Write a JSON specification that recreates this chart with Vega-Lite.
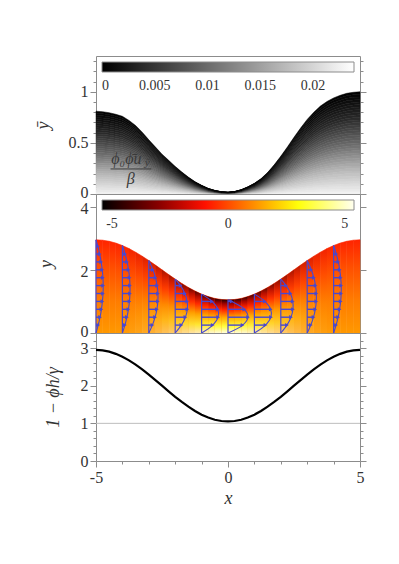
{
"$schema":"https://vega.github.io/schema/vega-lite/v6.json",
"autosize":{"type":"pad"},
"padding":{"left":33,"top":52,"right":5,"bottom":5},
"background":"white",
"spacing":0,
"bounds":"flush",
"resolve":{"scale":{"color":"independent"},"legend":{"color":"independent"}},
"config":{
 "view":{"stroke":"#8c8c8c","strokeWidth":1},
 "axis":{"domain":false,"grid":false,"tickColor":"#8c8c8c","tickWidth":1,"labelFont":"Liberation Serif","labelFontSize":16,"labelColor":"#333","labelPadding":2,"labelFlush":false,"labelOverlap":false,"titleFont":"Liberation Serif","titleFontSize":18,"titleFontStyle":"italic","titleFontWeight":"normal","titleColor":"#333"}
},
"datasets":{
"pts":[
{"x":-5,"a":0.81,"b":2.95},{"x":-4.75,"a":0.805,"b":2.938},{"x":-4.5,"a":0.795,"b":2.904},{"x":-4.25,"a":0.78,"b":2.846},{"x":-4,"a":0.76,"b":2.769},
{"x":-3.75,"a":0.72,"b":2.672},{"x":-3.5,"a":0.67,"b":2.558},{"x":-3.25,"a":0.605,"b":2.431},{"x":-3,"a":0.53,"b":2.294},{"x":-2.75,"a":0.46,"b":2.149},
{"x":-2.5,"a":0.39,"b":2.0},{"x":-2.25,"a":0.33,"b":1.851},{"x":-2,"a":0.27,"b":1.706},{"x":-1.75,"a":0.215,"b":1.569},{"x":-1.5,"a":0.165,"b":1.442},
{"x":-1.25,"a":0.12,"b":1.328},{"x":-1,"a":0.085,"b":1.231},{"x":-0.75,"a":0.055,"b":1.154},{"x":-0.5,"a":0.035,"b":1.096},{"x":-0.25,"a":0.022,"b":1.062},
{"x":0,"a":0.017,"b":1.05},{"x":0.25,"a":0.024,"b":1.062},{"x":0.5,"a":0.042,"b":1.096},{"x":0.75,"a":0.07,"b":1.154},{"x":1,"a":0.105,"b":1.231},
{"x":1.25,"a":0.15,"b":1.328},{"x":1.5,"a":0.21,"b":1.442},{"x":1.75,"a":0.285,"b":1.569},{"x":2,"a":0.37,"b":1.706},{"x":2.25,"a":0.46,"b":1.851},
{"x":2.5,"a":0.555,"b":2.0},{"x":2.75,"a":0.645,"b":2.149},{"x":3,"a":0.73,"b":2.294},{"x":3.25,"a":0.8,"b":2.431},{"x":3.5,"a":0.86,"b":2.558},
{"x":3.75,"a":0.905,"b":2.672},{"x":4,"a":0.94,"b":2.769},{"x":4.25,"a":0.965,"b":2.846},{"x":4.5,"a":0.985,"b":2.904},{"x":4.75,"a":0.995,"b":2.938},
{"x":5,"a":1.0,"b":2.95}
],
"strips":[
{"s":0,"x":-5,"b":2.95,"w":0},{"s":0,"x":-4.75,"b":2.938,"w":0},
{"s":1,"x":-4.75,"b":2.938,"w":0},{"s":1,"x":-4.5,"b":2.904,"w":0},
{"s":2,"x":-4.5,"b":2.904,"w":0},{"s":2,"x":-4.25,"b":2.846,"w":0},
{"s":3,"x":-4.25,"b":2.846,"w":0.01},{"s":3,"x":-4,"b":2.769,"w":0.01},
{"s":4,"x":-4,"b":2.769,"w":0.03},{"s":4,"x":-3.75,"b":2.672,"w":0.03},
{"s":5,"x":-3.75,"b":2.672,"w":0.06},{"s":5,"x":-3.5,"b":2.558,"w":0.06},
{"s":6,"x":-3.5,"b":2.558,"w":0.1},{"s":6,"x":-3.25,"b":2.431,"w":0.1},
{"s":7,"x":-3.25,"b":2.431,"w":0.16},{"s":7,"x":-3,"b":2.294,"w":0.16},
{"s":8,"x":-3,"b":2.294,"w":0.23},{"s":8,"x":-2.75,"b":2.149,"w":0.23},
{"s":9,"x":-2.75,"b":2.149,"w":0.31},{"s":9,"x":-2.5,"b":2.0,"w":0.31},
{"s":10,"x":-2.5,"b":2.0,"w":0.39},{"s":10,"x":-2.25,"b":1.851,"w":0.39},
{"s":11,"x":-2.25,"b":1.851,"w":0.47},{"s":11,"x":-2,"b":1.706,"w":0.47},
{"s":12,"x":-2,"b":1.706,"w":0.56},{"s":12,"x":-1.75,"b":1.569,"w":0.56},
{"s":13,"x":-1.75,"b":1.569,"w":0.64},{"s":13,"x":-1.5,"b":1.442,"w":0.64},
{"s":14,"x":-1.5,"b":1.442,"w":0.72},{"s":14,"x":-1.25,"b":1.328,"w":0.72},
{"s":15,"x":-1.25,"b":1.328,"w":0.79},{"s":15,"x":-1,"b":1.231,"w":0.79},
{"s":16,"x":-1,"b":1.231,"w":0.86},{"s":16,"x":-0.75,"b":1.154,"w":0.86},
{"s":17,"x":-0.75,"b":1.154,"w":0.92},{"s":17,"x":-0.5,"b":1.096,"w":0.92},
{"s":18,"x":-0.5,"b":1.096,"w":0.96},{"s":18,"x":-0.25,"b":1.062,"w":0.96},
{"s":19,"x":-0.25,"b":1.062,"w":0.99},{"s":19,"x":0,"b":1.05,"w":0.99},
{"s":20,"x":0,"b":1.05,"w":0.99},{"s":20,"x":0.25,"b":1.062,"w":0.99},
{"s":21,"x":0.25,"b":1.062,"w":0.96},{"s":21,"x":0.5,"b":1.096,"w":0.96},
{"s":22,"x":0.5,"b":1.096,"w":0.92},{"s":22,"x":0.75,"b":1.154,"w":0.92},
{"s":23,"x":0.75,"b":1.154,"w":0.86},{"s":23,"x":1,"b":1.231,"w":0.86},
{"s":24,"x":1,"b":1.231,"w":0.79},{"s":24,"x":1.25,"b":1.328,"w":0.79},
{"s":25,"x":1.25,"b":1.328,"w":0.72},{"s":25,"x":1.5,"b":1.442,"w":0.72},
{"s":26,"x":1.5,"b":1.442,"w":0.64},{"s":26,"x":1.75,"b":1.569,"w":0.64},
{"s":27,"x":1.75,"b":1.569,"w":0.56},{"s":27,"x":2,"b":1.706,"w":0.56},
{"s":28,"x":2,"b":1.706,"w":0.47},{"s":28,"x":2.25,"b":1.851,"w":0.47},
{"s":29,"x":2.25,"b":1.851,"w":0.39},{"s":29,"x":2.5,"b":2.0,"w":0.39},
{"s":30,"x":2.5,"b":2.0,"w":0.31},{"s":30,"x":2.75,"b":2.149,"w":0.31},
{"s":31,"x":2.75,"b":2.149,"w":0.23},{"s":31,"x":3,"b":2.294,"w":0.23},
{"s":32,"x":3,"b":2.294,"w":0.16},{"s":32,"x":3.25,"b":2.431,"w":0.16},
{"s":33,"x":3.25,"b":2.431,"w":0.1},{"s":33,"x":3.5,"b":2.558,"w":0.1},
{"s":34,"x":3.5,"b":2.558,"w":0.06},{"s":34,"x":3.75,"b":2.672,"w":0.06},
{"s":35,"x":3.75,"b":2.672,"w":0.03},{"s":35,"x":4,"b":2.769,"w":0.03},
{"s":36,"x":4,"b":2.769,"w":0.01},{"s":36,"x":4.25,"b":2.846,"w":0.01},
{"s":37,"x":4.25,"b":2.846,"w":0},{"s":37,"x":4.5,"b":2.904,"w":0},
{"s":38,"x":4.5,"b":2.904,"w":0},{"s":38,"x":4.75,"b":2.938,"w":0},
{"s":39,"x":4.75,"b":2.938,"w":0},{"s":39,"x":5,"b":2.95,"w":0}
],
"arrows":[
{"p":-5,"y":0,"t":-5,"e":1},{"p":-5,"y":2.95,"t":-5,"e":1},
{"p":-5,"y":0.25,"t":-4.916},{"p":-5,"y":0.5,"t":-4.847},{"p":-5,"y":0.75,"t":-4.794},{"p":-5,"y":1,"t":-4.757},{"p":-5,"y":1.25,"t":-4.735},{"p":-5,"y":1.5,"t":-4.729},{"p":-5,"y":1.75,"t":-4.738},{"p":-5,"y":2,"t":-4.763},{"p":-5,"y":2.25,"t":-4.804},{"p":-5,"y":2.5,"t":-4.86},{"p":-5,"y":2.75,"t":-4.931},
{"p":-4,"y":0,"t":-4,"e":1},{"p":-4,"y":2.769,"t":-4,"e":1},
{"p":-4,"y":0.25,"t":-3.905},{"p":-4,"y":0.5,"t":-3.829},{"p":-4,"y":0.75,"t":-3.772},{"p":-4,"y":1,"t":-3.733},{"p":-4,"y":1.25,"t":-3.714},{"p":-4,"y":1.5,"t":-3.713},{"p":-4,"y":1.75,"t":-3.731},{"p":-4,"y":2,"t":-3.768},{"p":-4,"y":2.25,"t":-3.824},{"p":-4,"y":2.5,"t":-3.898},
{"p":-3,"y":0,"t":-3,"e":1},{"p":-3,"y":2.294,"t":-3,"e":1},
{"p":-3,"y":0.25,"t":-2.864},{"p":-3,"y":0.5,"t":-2.762},{"p":-3,"y":0.75,"t":-2.693},{"p":-3,"y":1,"t":-2.657},{"p":-3,"y":1.25,"t":-2.654},{"p":-3,"y":1.5,"t":-2.685},{"p":-3,"y":1.75,"t":-2.748},{"p":-3,"y":2,"t":-2.845},
{"p":-2,"y":0,"t":-2,"e":1},{"p":-2,"y":1.706,"t":-2,"e":1},
{"p":-2,"y":0.25,"t":-1.767},{"p":-2,"y":0.5,"t":-1.613},{"p":-2,"y":0.75,"t":-1.539},{"p":-2,"y":1,"t":-1.546},{"p":-2,"y":1.25,"t":-1.632},{"p":-2,"y":1.5,"t":-1.798},
{"p":-1,"y":0,"t":-1,"e":1},{"p":-1,"y":1.231,"t":-1,"e":1},
{"p":-1,"y":0.25,"t":-0.579},{"p":-1,"y":0.5,"t":-0.373},{"p":-1,"y":0.75,"t":-0.381},{"p":-1,"y":1,"t":-0.605},
{"p":0,"y":0,"t":0,"e":1},{"p":0,"y":1.05,"t":0,"e":1},
{"p":0,"y":0.25,"t":0.553},{"p":0,"y":0.5,"t":0.76},{"p":0,"y":0.75,"t":0.622},{"p":0,"y":1,"t":0.138},
{"p":1,"y":0,"t":1,"e":1},{"p":1,"y":1.231,"t":1,"e":1},
{"p":1,"y":0.25,"t":1.421},{"p":1,"y":0.5,"t":1.627},{"p":1,"y":0.75,"t":1.619},{"p":1,"y":1,"t":1.395},
{"p":2,"y":0,"t":2,"e":1},{"p":2,"y":1.706,"t":2,"e":1},
{"p":2,"y":0.25,"t":2.233},{"p":2,"y":0.5,"t":2.387},{"p":2,"y":0.75,"t":2.461},{"p":2,"y":1,"t":2.454},{"p":2,"y":1.25,"t":2.368},{"p":2,"y":1.5,"t":2.202},
{"p":3,"y":0,"t":3,"e":1},{"p":3,"y":2.294,"t":3,"e":1},
{"p":3,"y":0.25,"t":3.136},{"p":3,"y":0.5,"t":3.238},{"p":3,"y":0.75,"t":3.307},{"p":3,"y":1,"t":3.343},{"p":3,"y":1.25,"t":3.346},{"p":3,"y":1.5,"t":3.315},{"p":3,"y":1.75,"t":3.252},{"p":3,"y":2,"t":3.155},
{"p":4,"y":0,"t":4,"e":1},{"p":4,"y":2.769,"t":4,"e":1},
{"p":4,"y":0.25,"t":4.095},{"p":4,"y":0.5,"t":4.171},{"p":4,"y":0.75,"t":4.228},{"p":4,"y":1,"t":4.267},{"p":4,"y":1.25,"t":4.286},{"p":4,"y":1.5,"t":4.287},{"p":4,"y":1.75,"t":4.269},{"p":4,"y":2,"t":4.232},{"p":4,"y":2.25,"t":4.176},{"p":4,"y":2.5,"t":4.102}
]
},
"vconcat":[
{
 "width":264,"height":138,
 "layer":[
  {"data":{"name":"pts"},
   "transform":[
     {"fold":["a","a","a","a","a","a","a","a","a","a","a","a","a","a","a","a","a","a","a","a","a","a","a","a","a","a","a","a","a","a","a","a","a","a","a","a","a","a","a","a"],"as":["k","v"]},
     {"window":[{"op":"row_number","as":"j"}],"groupby":["x"]}],
   "mark":{"type":"area","interpolate":"linear","strokeWidth":0.5},
   "encoding":{
    "x":{"field":"x","type":"quantitative","scale":{"domain":[-5,5],"nice":false,"zero":false},"axis":null},
    "y":{"field":"v","type":"quantitative","stack":"zero","scale":{"domain":[0,54],"nice":false,"zero":false},"axis":null},
    "order":{"field":"j","type":"quantitative","sort":"ascending"},
    "detail":{"field":"j","type":"quantitative"},
    "fill":{"field":"j","type":"quantitative","scale":{"domain":[0.5,10.5,20.5,30.5,40.5],"range":["#f4f4f4","#b4b4b4","#686868","#282828","#000000"],"interpolate":"rgb"},"legend":null},
    "stroke":{"field":"j","type":"quantitative","scale":{"domain":[0.5,10.5,20.5,30.5,40.5],"range":["#f4f4f4","#b4b4b4","#686868","#282828","#000000"],"interpolate":"rgb"},"legend":null}}},
  {"data":{"name":"pts"},
   "mark":{"type":"point","size":0,"strokeWidth":0,"filled":true,"opacity":1},
   "encoding":{
    "x":{"field":"x","type":"quantitative","axis":null},
    "y":{"field":"a","type":"quantitative","scale":{"domain":[0,1.35],"nice":false,"zero":false},
      "axis":{"orient":"left","title":"y\u0304","titlePadding":16,"values":[0,0.1,0.2,0.3,0.4,0.5,0.6,0.7,0.8,0.9,1,1.1,1.2,1.3],
        "labelExpr":"abs(datum.value*2 - round(datum.value*2)) < 0.001 ? format(datum.value, '~g') : ''",
        "labelOffset":{"condition":{"test":"datum.value == 0","value":-2},"value":0},
        "tickSize":{"condition":{"test":"abs(datum.value*2 - round(datum.value*2)) < 0.001","value":6},"value":3}}},
    "color":{"field":"a","type":"quantitative","scale":{"domain":[0,0.0239],"range":["#000000","#ffffff"],"interpolate":"rgb"},
      "legend":{"orient":"none","legendX":6,"legendY":6,"direction":"horizontal","gradientLength":252,"gradientThickness":10,"title":null,"values":[0,0.005,0.01,0.015,0.02],"format":"~g","labelFont":"Liberation Serif","labelFontSize":14,"labelColor":"#333","labelOffset":7,"gradientStrokeColor":"#8c8c8c","gradientStrokeWidth":1,"padding":0,"labelOverlap":false}}}},
  {"data":{"values":[{}]},
   "mark":{"type":"rule","color":"#3a3a3a","strokeWidth":1},
   "encoding":{"x":{"datum":-4.45,"axis":null},"x2":{"datum":-2.9},
    "y":{"datum":0.245,"scale":{"domain":[0,1.35],"nice":false,"zero":false},
      "axis":{"orient":"right","title":null,"labels":false,"values":[0,0.1,0.2,0.3,0.4,0.5,0.6,0.7,0.8,0.9,1,1.1,1.2,1.3],
        "tickSize":{"condition":{"test":"abs(datum.value*2 - round(datum.value*2)) < 0.001","value":6},"value":3}}}}},
  {"data":{"values":[{}]},
   "mark":{"type":"text","text":"\u03d5\u2080\u03d5\u0304u","font":"Liberation Serif","fontStyle":"italic","fontSize":16,"color":"#3a3a3a","baseline":"middle","align":"center"},
   "encoding":{"x":{"datum":-3.85,"axis":null},"y":{"datum":0.345,"scale":{"domain":[0,1.35],"nice":false,"zero":false},"axis":null}}},
  {"data":{"values":[{}]},
   "mark":{"type":"text","text":"y\u0304","font":"Liberation Serif","fontStyle":"italic","fontSize":11,"color":"#3a3a3a","baseline":"middle","align":"center"},
   "encoding":{"x":{"datum":-3.06,"axis":null},"y":{"datum":0.3,"scale":{"domain":[0,1.35],"nice":false,"zero":false},"axis":null}}},
  {"data":{"values":[{}]},
   "mark":{"type":"text","text":"\u03b2","font":"Liberation Serif","fontStyle":"italic","fontSize":16,"color":"#3a3a3a","baseline":"middle","align":"center"},
   "encoding":{"x":{"datum":-3.68,"axis":null},"y":{"datum":0.15,"scale":{"domain":[0,1.35],"nice":false,"zero":false},"axis":null}}}
 ],
 "resolve":{"scale":{"y":"independent"},"axis":{"y":"independent"}}
},
{
 "width":264,"height":139,
 "layer":[
  {"data":{"name":"strips"},
   "mark":{"type":"area","interpolate":"linear","strokeWidth":0.6,
     "fill":{"gradient":"linear","x1":0,"y1":1,"x2":0,"y2":0,"stops":[{"offset":0,"color":"#ff9800"},{"offset":0.35,"color":"#ff7c00"},{"offset":0.7,"color":"#ff5000"},{"offset":1,"color":"#ff2400"}]},
     "stroke":{"gradient":"linear","x1":0,"y1":1,"x2":0,"y2":0,"stops":[{"offset":0,"color":"#ff9800"},{"offset":0.35,"color":"#ff7c00"},{"offset":0.7,"color":"#ff5000"},{"offset":1,"color":"#ff2400"}]}},
   "encoding":{
    "x":{"field":"x","type":"quantitative","scale":{"domain":[-5,5],"nice":false,"zero":false},"axis":null},
    "y":{"field":"b","type":"quantitative","stack":null,"scale":{"domain":[0,4.4],"nice":false,"zero":false},
      "axis":{"orient":"left","title":"y","titlePadding":25,"values":[0,2,4],"format":"d","tickSize":6,
        "labelOffset":{"condition":{"test":"datum.value == 0","value":-2},"value":2}}},
    "detail":{"field":"s","type":"nominal"}}},
  {"data":{"name":"strips"},
   "transform":[{"filter":"datum.w > 0"}],
   "mark":{"type":"area","interpolate":"linear",
     "fill":{"gradient":"linear","x1":0,"y1":1,"x2":0,"y2":0,"stops":[{"offset":0,"color":"#ffffe0"},{"offset":0.2,"color":"#ffff40"},{"offset":0.45,"color":"#ffb000"},{"offset":0.7,"color":"#ff2000"},{"offset":0.87,"color":"#a00000"},{"offset":1,"color":"#200000"}]}},
   "encoding":{
    "x":{"field":"x","type":"quantitative","axis":null},
    "y":{"field":"b","type":"quantitative","stack":null,"axis":null},
    "opacity":{"field":"w","type":"quantitative","scale":null,"legend":null},
    "detail":{"field":"s","type":"nominal"}}},
  {"data":{"name":"arrows"},
   "transform":[{"filter":"datum.e == 1 && datum.y > 0"}],
   "mark":{"type":"rule","color":"#4848d0","strokeWidth":1.2},
   "encoding":{"x":{"field":"p","type":"quantitative","axis":null},"y":{"field":"y","type":"quantitative","axis":null},"y2":{"datum":0}}},
  {"data":{"name":"arrows"},
   "mark":{"type":"line","color":"#4848d0","strokeWidth":1.1,"interpolate":"catmull-rom"},
   "encoding":{"x":{"field":"t","type":"quantitative","axis":null},"y":{"field":"y","type":"quantitative","axis":null},"detail":{"field":"p","type":"nominal"},"order":{"field":"y","type":"quantitative"}}},
  {"data":{"name":"arrows"},
   "transform":[{"filter":"datum.e != 1"}],
   "mark":{"type":"rule","color":"#4848d0","strokeWidth":1.4},
   "encoding":{"x":{"field":"p","type":"quantitative","axis":null},"x2":{"field":"t"},"y":{"field":"y","type":"quantitative","axis":null}}},
  {"data":{"name":"arrows"},
   "transform":[{"filter":"datum.e != 1"}],
   "mark":{"type":"point","shape":"triangle-right","filled":true,"size":18,"color":"#4848d0","opacity":1},
   "encoding":{"x":{"field":"t","type":"quantitative","axis":null},"y":{"field":"y","type":"quantitative","axis":null}}},
  {"data":{"name":"arrows"},
   "mark":{"type":"point","size":0,"strokeWidth":0,"filled":true,"opacity":1},
   "encoding":{
    "x":{"field":"t","type":"quantitative","axis":null},
    "y":{"field":"y","type":"quantitative","axis":{"orient":"right","title":null,"labels":false,"values":[0,2,4],"tickSize":6}},
    "color":{"field":"t","type":"quantitative","scale":{"domain":[-5.43,-2.85,-1.0,1.4,2.9,5.4],"range":["#000000","#900000","#ff1000","#ffa000","#ffff00","#fffff0"],"interpolate":"rgb"},
      "legend":{"orient":"none","legendX":6,"legendY":6,"direction":"horizontal","gradientLength":252,"gradientThickness":10,"title":null,"values":[-5,0,5],"labelExpr":"datum.value < 0 ? '-' + format(-datum.value, '~g') : format(datum.value, '~g')","labelFont":"Liberation Serif","labelFontSize":14,"labelColor":"#333","labelOffset":7,"gradientStrokeColor":"#8c8c8c","gradientStrokeWidth":1,"padding":0,"labelOverlap":false}}}}
 ],
 "resolve":{"axis":{"y":"independent"}}
},
{
 "width":264,"height":128,
 "layer":[
  {"data":{"values":[{}]},
   "mark":{"type":"rule","color":"#bdbdbd","strokeWidth":1},
   "encoding":{"y":{"datum":1,"axis":null}}},
  {"data":{"name":"pts"},
   "mark":{"type":"line","color":"#000000","strokeWidth":2.2},
   "encoding":{
    "x":{"field":"x","type":"quantitative","scale":{"domain":[-5,5],"nice":false,"zero":false},
      "axis":{"title":"x","titlePadding":4,"values":[-5,-4,-3,-2,-1,0,1,2,3,4,5],"labelExpr":"datum.value == -5 ? '-5' : datum.value == 0 ? '0' : datum.value == 5 ? '5' : ''","tickSize":{"condition":{"test":"abs(datum.value) == 5 || datum.value == 0","value":6},"value":3}}},
    "y":{"field":"b","type":"quantitative","scale":{"domain":[0,3.4],"nice":false,"zero":false},
      "axis":{"orient":"left","title":"1 \u2212 \u03d5h/\u03b3","titlePadding":18,"values":[0,0.2,0.4,0.6,0.8,1,1.2,1.4,1.6,1.8,2,2.2,2.4,2.6,2.8,3,3.2,3.4],
        "labelExpr":"abs(datum.value - round(datum.value)) < 0.001 ? format(datum.value, '.0f') : ''",
        "tickSize":{"condition":{"test":"abs(datum.value - round(datum.value)) < 0.001","value":6},"value":3}}}}},
  {"data":{"name":"pts"},
   "mark":{"type":"line","opacity":0},
   "encoding":{
    "x":{"field":"x","type":"quantitative",
      "axis":{"title":"x","titlePadding":4,"values":[-5,-4,-3,-2,-1,0,1,2,3,4,5],"labelExpr":"datum.value == -5 ? '-5' : datum.value == 0 ? '0' : datum.value == 5 ? '5' : ''","tickSize":{"condition":{"test":"abs(datum.value) == 5 || datum.value == 0","value":6},"value":3}}},
    "y":{"field":"b","type":"quantitative",
      "axis":{"orient":"right","title":null,"labels":false,"values":[0,0.2,0.4,0.6,0.8,1,1.2,1.4,1.6,1.8,2,2.2,2.4,2.6,2.8,3,3.2,3.4],
        "tickSize":{"condition":{"test":"abs(datum.value - round(datum.value)) < 0.001","value":6},"value":3}}}}}
 ],
 "resolve":{"axis":{"y":"independent"}}
}
]
}
